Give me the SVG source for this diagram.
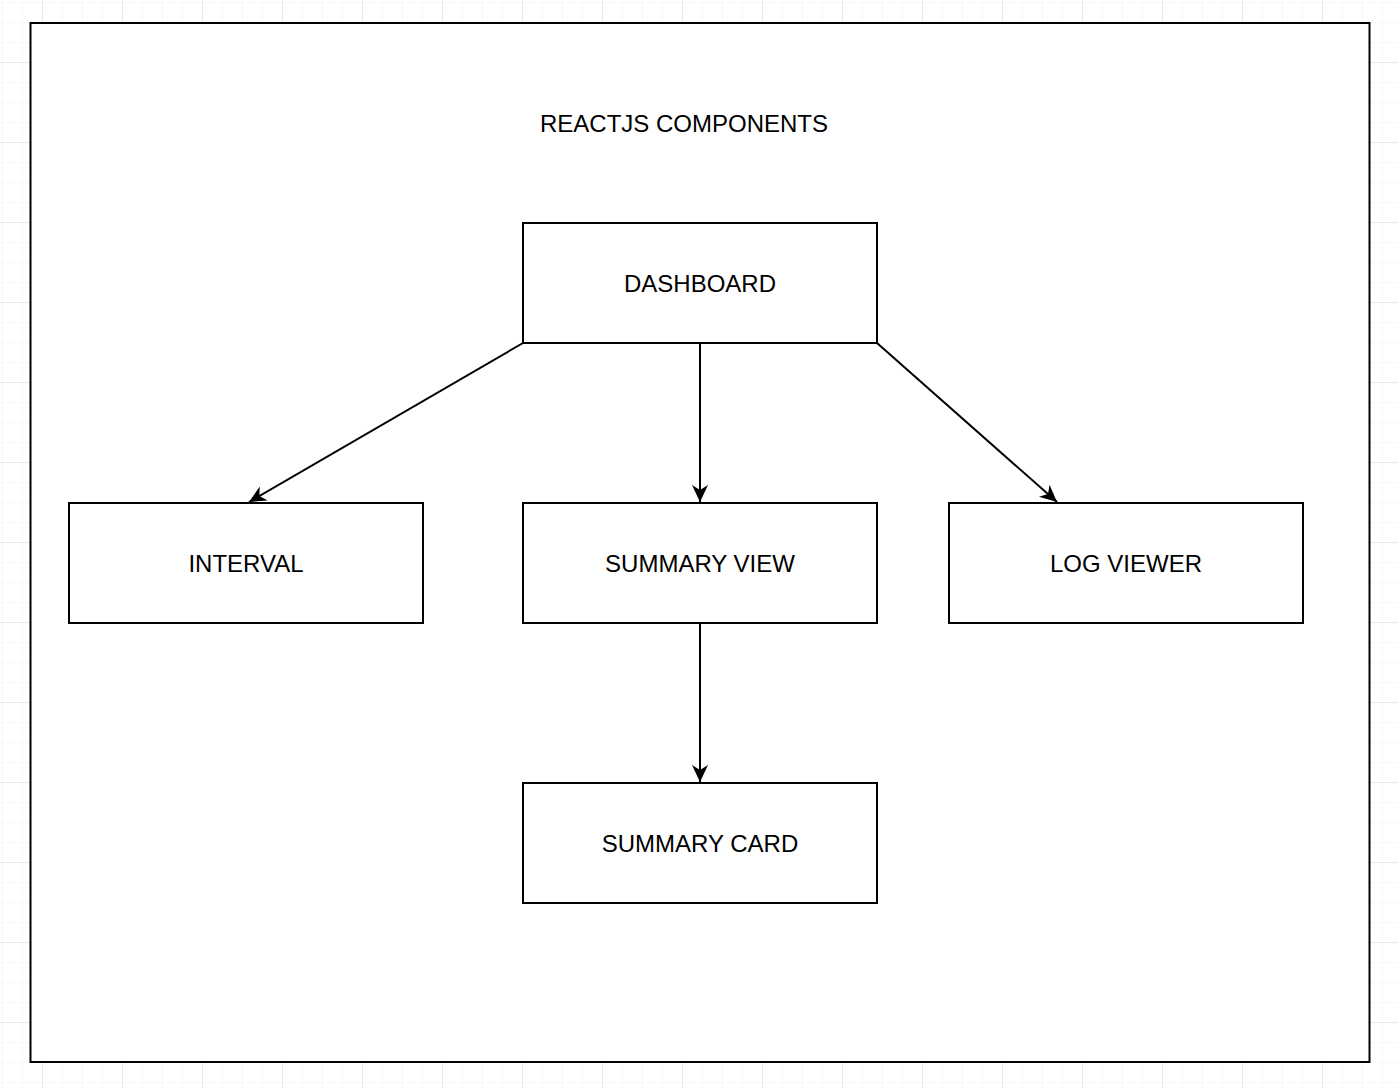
<svg xmlns="http://www.w3.org/2000/svg" width="1398" height="1088" viewBox="0 0 1398 1088">
<defs>
<pattern id="minor" width="20" height="20" patternUnits="userSpaceOnUse" x="2" y="2">
<path d="M0,0 H20 M0,0 V20" fill="none" stroke="#f0f0f0" stroke-width="1"/>
</pattern>
<pattern id="major" width="80" height="80" patternUnits="userSpaceOnUse" x="42" y="62">
<path d="M0,0 H80 M0,0 V80" fill="none" stroke="#d8d8d8" stroke-width="1"/>
</pattern>
<marker id="arrow" markerUnits="userSpaceOnUse" markerWidth="20" markerHeight="20" viewBox="-18 -10 20 20" refX="0" refY="0" orient="auto">
<path d="M0,0 L-17,-8 L-12,0 L-17,8 Z" fill="#000"/>
</marker>
<style>
.box{fill:#fff;stroke:#000;stroke-width:2}
.lbl{font-family:"Liberation Sans",Arial,sans-serif;font-size:24px;fill:#000;text-anchor:middle}
.edge{fill:none;stroke:#000;stroke-width:2;marker-end:url(#arrow)}
</style>
</defs>
<rect width="1398" height="1088" fill="#fff"/>
<rect width="1398" height="1088" fill="url(#minor)"/>
<rect width="1398" height="1088" fill="url(#major)"/>
<g id="container">
<rect x="30.5" y="23" width="1339" height="1039" class="box"/>
<text x="684" y="132" class="lbl">REACTJS COMPONENTS</text>
</g>
<g id="connectors">
<path class="edge" d="M523,343 L249,502"/>
<path class="edge" d="M700,343 L700,502"/>
<path class="edge" d="M877,343 L1057,502"/>
<path class="edge" d="M700,623 L700,782"/>
</g>
<g id="dashboard">
<rect x="523" y="223" width="354" height="120" class="box"/>
<text x="700" y="292" class="lbl">DASHBOARD</text>
</g>
<g id="interval">
<rect x="69" y="503" width="354" height="120" class="box"/>
<text x="246" y="572" class="lbl">INTERVAL</text>
</g>
<g id="summary-view">
<rect x="523" y="503" width="354" height="120" class="box"/>
<text x="700" y="572" class="lbl">SUMMARY VIEW</text>
</g>
<g id="log-viewer">
<rect x="949" y="503" width="354" height="120" class="box"/>
<text x="1126" y="572" class="lbl">LOG VIEWER</text>
</g>
<g id="summary-card">
<rect x="523" y="783" width="354" height="120" class="box"/>
<text x="700" y="852" class="lbl">SUMMARY CARD</text>
</g>
</svg>
